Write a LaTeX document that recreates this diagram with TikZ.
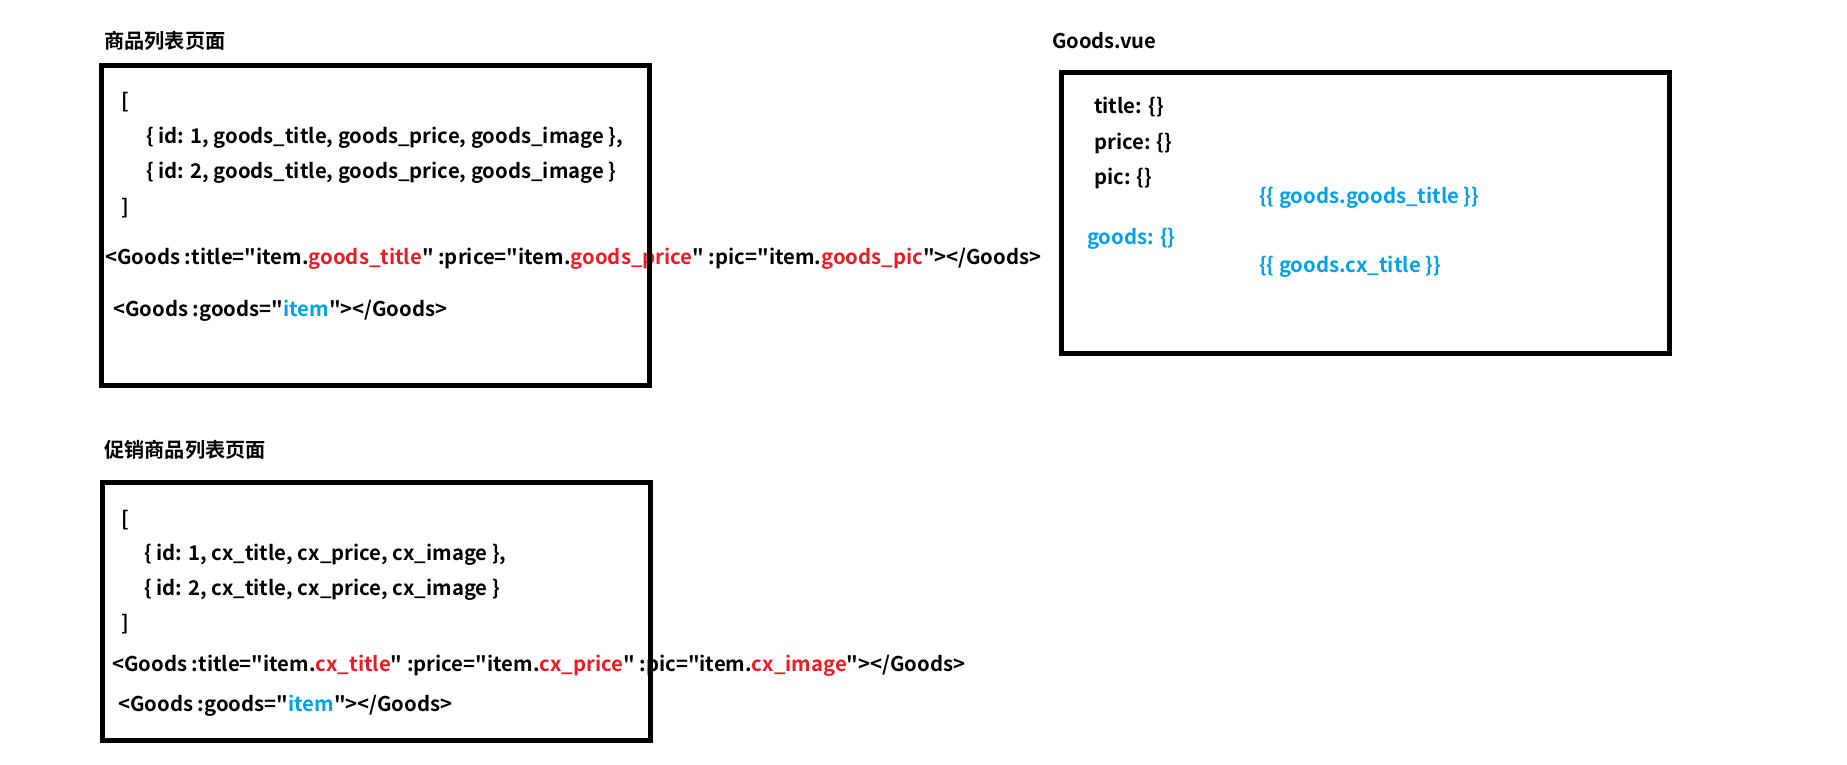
\documentclass[tikz,border=0pt]{standalone}
\usepackage{fontspec}
\setmainfont{Noto Sans CJK SC Bold}[Ligatures=TeXOff]
\definecolor{cred}{RGB}{237,28,36}
\definecolor{cblue}{RGB}{0,162,232}
\tikzset{
  txt/.style={anchor=west, inner sep=0pt, font=\fontsize{20.3}{24}\selectfont},
  ttl/.style={anchor=west, inner sep=0pt, font=\fontsize{20.2}{24}\selectfont},
  panel/.style={draw=black, line width=5pt, anchor=north west, inner sep=0pt, outer sep=0pt},
}
\begin{document}
\begin{tikzpicture}[x=1pt,y=-1pt]
\useasboundingbox[fill=white] (0,0) rectangle (1847,765);
% titles
\node[ttl] (t1) at (104,41) {商品列表页面};
\node[ttl] (t2) at (1052,41) {Goods.vue};
\node[ttl] (t3) at (104,450) {促销商品列表页面};
% box 1 text
\node[txt] (b1l0) at (121,102) {[};
\node[txt] (b1l1) at (146,138) {\{ id: 1, goods\_title, goods\_price, goods\_image \},};
\node[txt] (b1l2) at (146,173) {\{ id: 2, goods\_title, goods\_price, goods\_image \}};
\node[txt] (b1l3) at (121,208) {]};
\node[txt] (b1t) at (105,259) {<Goods :title="item.\textcolor{cred}{goods\_title}" :price="item.\textcolor{cred}{goods\_price}" :pic="item.\textcolor{cred}{goods\_pic}"></Goods>};
\node[txt] (b1g) at (113,311) {<Goods :goods="\textcolor{cblue}{item}"></Goods>};
% Goods.vue text
\node[txt] (v1) at (1094,107) {title: \{\}};
\node[txt] (v2) at (1094,143) {price: \{\}};
\node[txt] (v3) at (1094,178) {pic: \{\}};
\node[txt, text=cblue] (v4) at (1259,198) {\{\{ goods.goods\_title \}\}};
\node[txt, text=cblue] (v5) at (1087,239) {goods: \{\}};
\node[txt, text=cblue] (v6) at (1259,267) {\{\{ goods.cx\_title \}\}};
% box 3 text
\node[txt] (b3l0) at (121,520) {[};
\node[txt] (b3l1) at (144,555) {\{ id: 1, cx\_title, cx\_price, cx\_image \},};
\node[txt] (b3l2) at (144,590) {\{ id: 2, cx\_title, cx\_price, cx\_image \}};
\node[txt] (b3l3) at (121,624) {]};
\node[txt] (b3t) at (112,666) {<Goods :title="item.\textcolor{cred}{cx\_title}" :price="item.\textcolor{cred}{cx\_price}" :pic="item.\textcolor{cred}{cx\_image}"></Goods>};
\node[txt] (b3g) at (118,706) {<Goods :goods="\textcolor{cblue}{item}"></Goods>};
% panels
\node[panel, minimum width=547.5pt, minimum height=319.5pt] (box1) at (101.5,65.5) {};
\node[panel, minimum width=607.5pt, minimum height=280.5pt] (box2) at (1061.5,72.5) {};
\node[panel, minimum width=548pt, minimum height=257.5pt] (box3) at (102,482.5) {};
\end{tikzpicture}
\end{document}
